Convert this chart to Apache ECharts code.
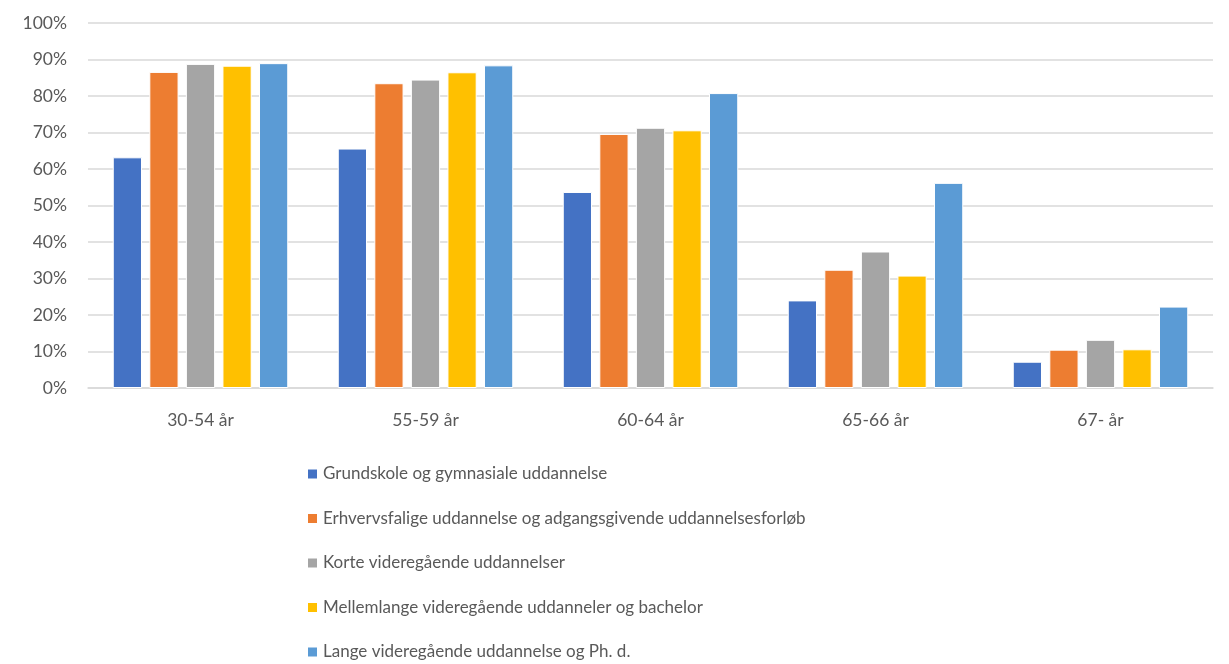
<!DOCTYPE html>
<html>
<head>
<meta charset="utf-8">
<script src="https://cdn.jsdelivr.net/npm/echarts@6/dist/echarts.min.js"></script>
<style>
  html, body { margin: 0; padding: 0; background: #fff; }
  #chart { width: 1229px; height: 664px; }
</style>
</head>
<body>
<div id="chart"></div>
<script>
// aldersgrupper
var categories = ['30-54 år', '55-59 år', '60-64 år', '65-66 år', '67- år'];

var names = [
  'Grundskole og gymnasiale uddannelse',
  'Erhvervsfalige uddannelse og adgangsgivende uddannelsesforløb',
  'Korte videregående uddannelser',
  'Mellemlange videregående uddanneler og bachelor',
  'Lange videregående uddannelse og Ph. d.'
];
var colors = ['#4472C4', '#ED7D31', '#A5A5A5', '#FFC000', '#5B9BD5'];

var grundskole   = [63.2, 65.6, 53.7, 24.0, 7.2];
var erhverv      = [86.6, 83.5, 69.6, 32.4, 10.5];
var korte        = [88.8, 84.5, 71.3, 37.4, 13.2];
var mellemlange  = [88.3, 86.5, 70.6, 30.8, 10.6];
var lange        = [89.0, 88.4, 80.8, 56.2, 22.3];

var values = [grundskole, erhverv, korte, mellemlange, lange];

var font = 'Lato, "Open Sans", sans-serif';

var series = names.map(function (n, i) {
  return {
    name: n,
    type: 'bar',
    data: values[i],
    barGap: '25%',
    barCategoryGap: '22%',
    itemStyle: { color: colors[i], borderColor: '#fff', borderWidth: 1 }
  };
});

var myChart = echarts.init(document.getElementById('chart'));
var option = {
  animation: false,
  textStyle: { fontFamily: font },
  grid: { left: 88, right: 16, top: 23, bottom: 276, containLabel: false },
  legend: {
    orient: 'vertical',
    left: 301,
    top: 459,
    height: 220,
    icon: 'rect',
    itemWidth: 11,
    itemHeight: 11,
    itemGap: 24.5,
    textStyle: { fontFamily: font, fontSize: 17, color: '#595959', lineHeight: 20 },
    data: names
  },
  xAxis: {
    type: 'category',
    data: categories,
    axisLine: { lineStyle: { color: '#d9d9d9', width: 1.5 } },
    axisTick: { show: false },
    axisLabel: { color: '#595959', fontSize: 17.5, margin: 23, fontFamily: font }
  },
  yAxis: {
    type: 'value',
    min: 0,
    max: 100,
    interval: 10,
    axisLine: { show: false },
    axisTick: { show: false },
    axisLabel: { color: '#595959', fontSize: 17.5, margin: 21, fontFamily: font, formatter: '{value}%' },
    splitLine: { lineStyle: { color: '#d9d9d9', width: 1.5 } }
  },
  series: series
};
myChart.setOption(option);
</script>
</body>
</html>
